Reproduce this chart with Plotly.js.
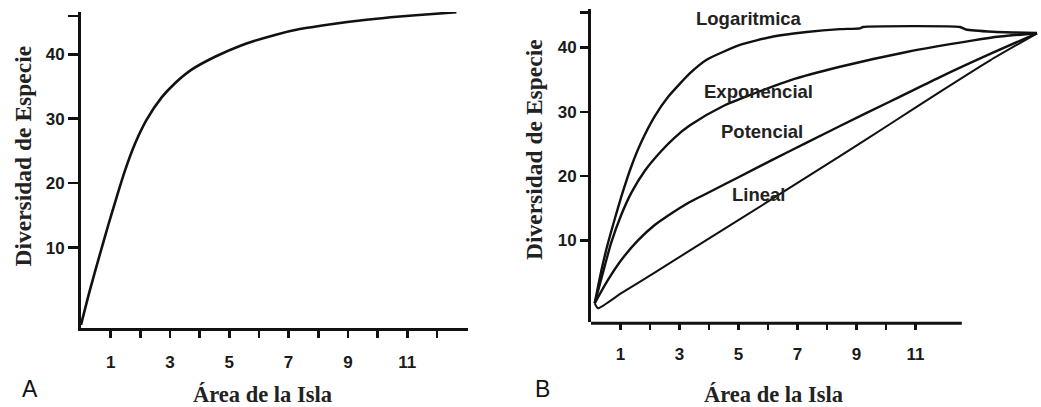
<!DOCTYPE html>
<html>
<head>
<meta charset="utf-8">
<script src="https://cdn.plot.ly/plotly-3.0.1.min.js"></script>
<style>
  html, body { margin: 0; padding: 0; background: #ffffff; }
  #chart { width: 1041px; height: 407px; }
</style>
</head>
<body>
<div id="chart"></div>
<script>
// ---------- Data ----------
// Panel A: species diversity vs island area
const areaA      = [0, 0.30, 0.64, 0.92, 1.20, 1.48, 1.82, 2.21, 2.72, 3.17, 3.73, 4.52, 5.42, 6.54, 7.38, 8.49, 9.63, 10.75, 11.86, 12.66];
const diversityA = [-2.0, 3.4, 9.0, 13.5, 17.8, 21.9, 26.1, 29.8, 33.3, 35.5, 37.6, 39.6, 41.4, 43.0, 43.9, 44.7, 45.35, 45.85, 46.25, 46.5];

// Panel B: four model curves
const areaLog = [0.125, 0.349, 0.576, 0.803, 1.027, 1.366, 1.705, 2.159, 2.61, 3.356, 3.92, 5.05, 6.18, 7.31, 8.44, 9.12, 9.22, 12.51, 12.71, 13.63, 15.12];
const divLog  = [0.23, 5.3, 9.6, 13.3, 16.8, 21.5, 25.3, 29.3, 32.3, 36.0, 38.1, 40.4, 41.7, 42.4, 42.85, 42.98, 43.18, 43.18, 42.80, 42.45, 42.25];

const areaExp = [0.125, 0.464, 0.688, 1.027, 1.366, 1.82, 2.383, 2.837, 3.356, 4.485, 5.617, 6.746, 8.44, 10.70, 12.96, 13.86, 15.12];
const divExp  = [0.23, 6.0, 9.7, 14.0, 17.4, 20.8, 23.9, 26.0, 27.9, 30.9, 33.0, 34.9, 37.0, 39.3, 41.1, 41.7, 42.22];

const areaPot = [0.125, 0.576, 1.027, 1.593, 2.159, 2.722, 3.264, 3.92, 5.05, 6.18, 7.31, 8.44, 10.14, 11.83, 13.53, 15.12];
const divPot  = [0.23, 3.86, 6.96, 10.0, 12.4, 14.2, 15.75, 17.3, 19.95, 22.6, 25.2, 27.8, 31.6, 35.4, 39.0, 42.2];

const areaLin = [0.125, 0.237, 1.027, 2.159, 3.356, 5.05, 6.746, 8.44, 10.14, 11.83, 13.53, 15.12];
const divLin  = [0.23, -0.54, 1.8, 5.0, 8.45, 13.3, 18.2, 23.1, 28.1, 33.1, 38.0, 42.2];

// Curve labels (panel B)
const curveNames  = ["Logaritmica", "Exponencial", "Potencial", "Lineal"];
const curveLabelX = [5.36, 5.67, 5.80, 5.67];
const curveLabelY = [44.54, 33.08, 26.9, 17.1];

// Ticks
const xTickValsA = [1, 2, 3, 4, 5, 6, 7, 8, 9, 10, 11, 12];
const xTickTextA = ["1", "", "3", "", "5", "", "7", "", "9", "", "11", ""];
const xTickValsB = [1, 2, 3, 4, 5, 6, 7, 8, 9, 10, 11];
const xTickTextB = ["1", "", "3", "", "5", "", "7", "", "9", "", "11"];
const yTickValsA = [10, 20, 30, 40, 45.9];
const yTickValsB = [10, 20, 30, 40, 45.4];
const yTickText  = ["10", "20", "30", "40", ""];

// Texts
const xTitle = "Área de la Isla";
const yTitle = "Diversidad de Especie";
const panelLabels = ["A", "B"];

// ---------- Figure ----------
const W = 1041, H = 407;
const px = v => v / W;
const py = v => 1 - v / H;

const ink = "#111111";
const tickFont = { family: "Liberation Sans, Arial, sans-serif", size: 17, color: "#1a1a1a", weight: "bold" };
const titleFont = { family: "Liberation Serif, Times New Roman, serif", size: 22.5, color: "#222222", weight: "bold" };

const traces = [
  { x: areaA, y: diversityA, xaxis: "x", yaxis: "y", mode: "lines",
    line: { color: ink, width: 2.6, shape: "spline", smoothing: 0.8 }, hoverinfo: "skip", showlegend: false },
  { x: areaLog, y: divLog, xaxis: "x2", yaxis: "y2", mode: "lines", name: curveNames[0],
    line: { color: ink, width: 2.4, shape: "spline", smoothing: 0.5 }, hoverinfo: "skip", showlegend: false },
  { x: areaExp, y: divExp, xaxis: "x2", yaxis: "y2", mode: "lines", name: curveNames[1],
    line: { color: ink, width: 2.4, shape: "spline", smoothing: 0.8 }, hoverinfo: "skip", showlegend: false },
  { x: areaPot, y: divPot, xaxis: "x2", yaxis: "y2", mode: "lines", name: curveNames[2],
    line: { color: ink, width: 2.4, shape: "spline", smoothing: 0.8 }, hoverinfo: "skip", showlegend: false },
  { x: areaLin, y: divLin, xaxis: "x2", yaxis: "y2", mode: "lines", name: curveNames[3],
    line: { color: ink, width: 2.0, shape: "spline", smoothing: 0.5 }, hoverinfo: "skip", showlegend: false }
];

const axisCommon = {
  showgrid: false, zeroline: false, ticks: "outside", tickcolor: ink,
  tickwidth: 2.6, linecolor: ink, linewidth: 3, tickfont: tickFont,
  fixedrange: true, automargin: false, tickmode: "array"
};

const annotations = [
  // axis titles
  { text: xTitle, xref: "paper", yref: "paper", x: px(262), y: py(394), showarrow: false, font: titleFont, xanchor: "center", yanchor: "middle" },
  { text: xTitle, xref: "paper", yref: "paper", x: px(773), y: py(394), showarrow: false, font: titleFont, xanchor: "center", yanchor: "middle" },
  { text: yTitle, xref: "paper", yref: "paper", x: px(22.5), y: py(156), textangle: -90, showarrow: false, font: Object.assign({}, titleFont, { size: 23.5 }), xanchor: "center", yanchor: "middle" },
  { text: yTitle, xref: "paper", yref: "paper", x: px(534), y: py(150), textangle: -90, showarrow: false, font: Object.assign({}, titleFont, { size: 23.5 }), xanchor: "center", yanchor: "middle" },
  // panel letters
  { text: panelLabels[0], xref: "paper", yref: "paper", x: px(29.5), y: py(389), showarrow: false, xanchor: "center", yanchor: "middle",
    font: { family: "Liberation Sans, Arial, sans-serif", size: 23, color: "#111111" } },
  { text: panelLabels[1], xref: "paper", yref: "paper", x: px(542.5), y: py(389), showarrow: false, xanchor: "center", yanchor: "middle",
    font: { family: "Liberation Sans, Arial, sans-serif", size: 23, color: "#111111" } }
];
curveNames.forEach((name, i) => {
  annotations.push({
    text: name, xref: "x2", yref: "y2", x: curveLabelX[i], y: curveLabelY[i],
    showarrow: false, xanchor: "center", yanchor: "middle",
    font: { family: "Liberation Sans, Arial, sans-serif", size: 18.5, color: "#222222", weight: "bold" }
  });
});

const layout = {
  width: W, height: H,
  margin: { l: 0, r: 0, t: 0, b: 0, pad: 0 },
  paper_bgcolor: "#ffffff", plot_bgcolor: "rgba(0,0,0,0)",
  showlegend: false,
  xaxis: Object.assign({}, axisCommon, {
    domain: [px(81), px(468)], range: [0, 13.05], anchor: "y",
    showline: true, tickvals: xTickValsA, ticktext: xTickTextA, ticklen: 7, ticklabelstandoff: 10
  }),
  yaxis: Object.assign({}, axisCommon, {
    domain: [py(328), py(12)], range: [-2.48, 46.55], anchor: "x",
    showline: true, tickvals: yTickValsA, ticktext: yTickText, ticklen: 10
  }),
  xaxis2: Object.assign({}, axisCommon, {
    domain: [px(591), 1], range: [0, 15.254], anchor: "y2",
    showline: false, tickvals: xTickValsB, ticktext: xTickTextB, ticklen: 7, ticklabelstandoff: 10
  }),
  yaxis2: Object.assign({}, axisCommon, {
    domain: [py(321.7), py(9)], range: [-2.63, 45.98], anchor: "x2",
    showline: true, tickvals: yTickValsB, ticktext: yTickText, ticklen: 8
  }),
  shapes: [
    // visible part of panel B's x axis line (curves run past its end)
    { type: "line", xref: "x2", yref: "paper", x0: 0, x1: 12.57, y0: py(321.7) - 1.5 / H, y1: py(321.7) - 1.5 / H,
      line: { color: ink, width: 3 } }
  ],
  annotations: annotations
};

Plotly.newPlot("chart", traces, layout, { displayModeBar: false, staticPlot: true });
</script>
</body>
</html>
